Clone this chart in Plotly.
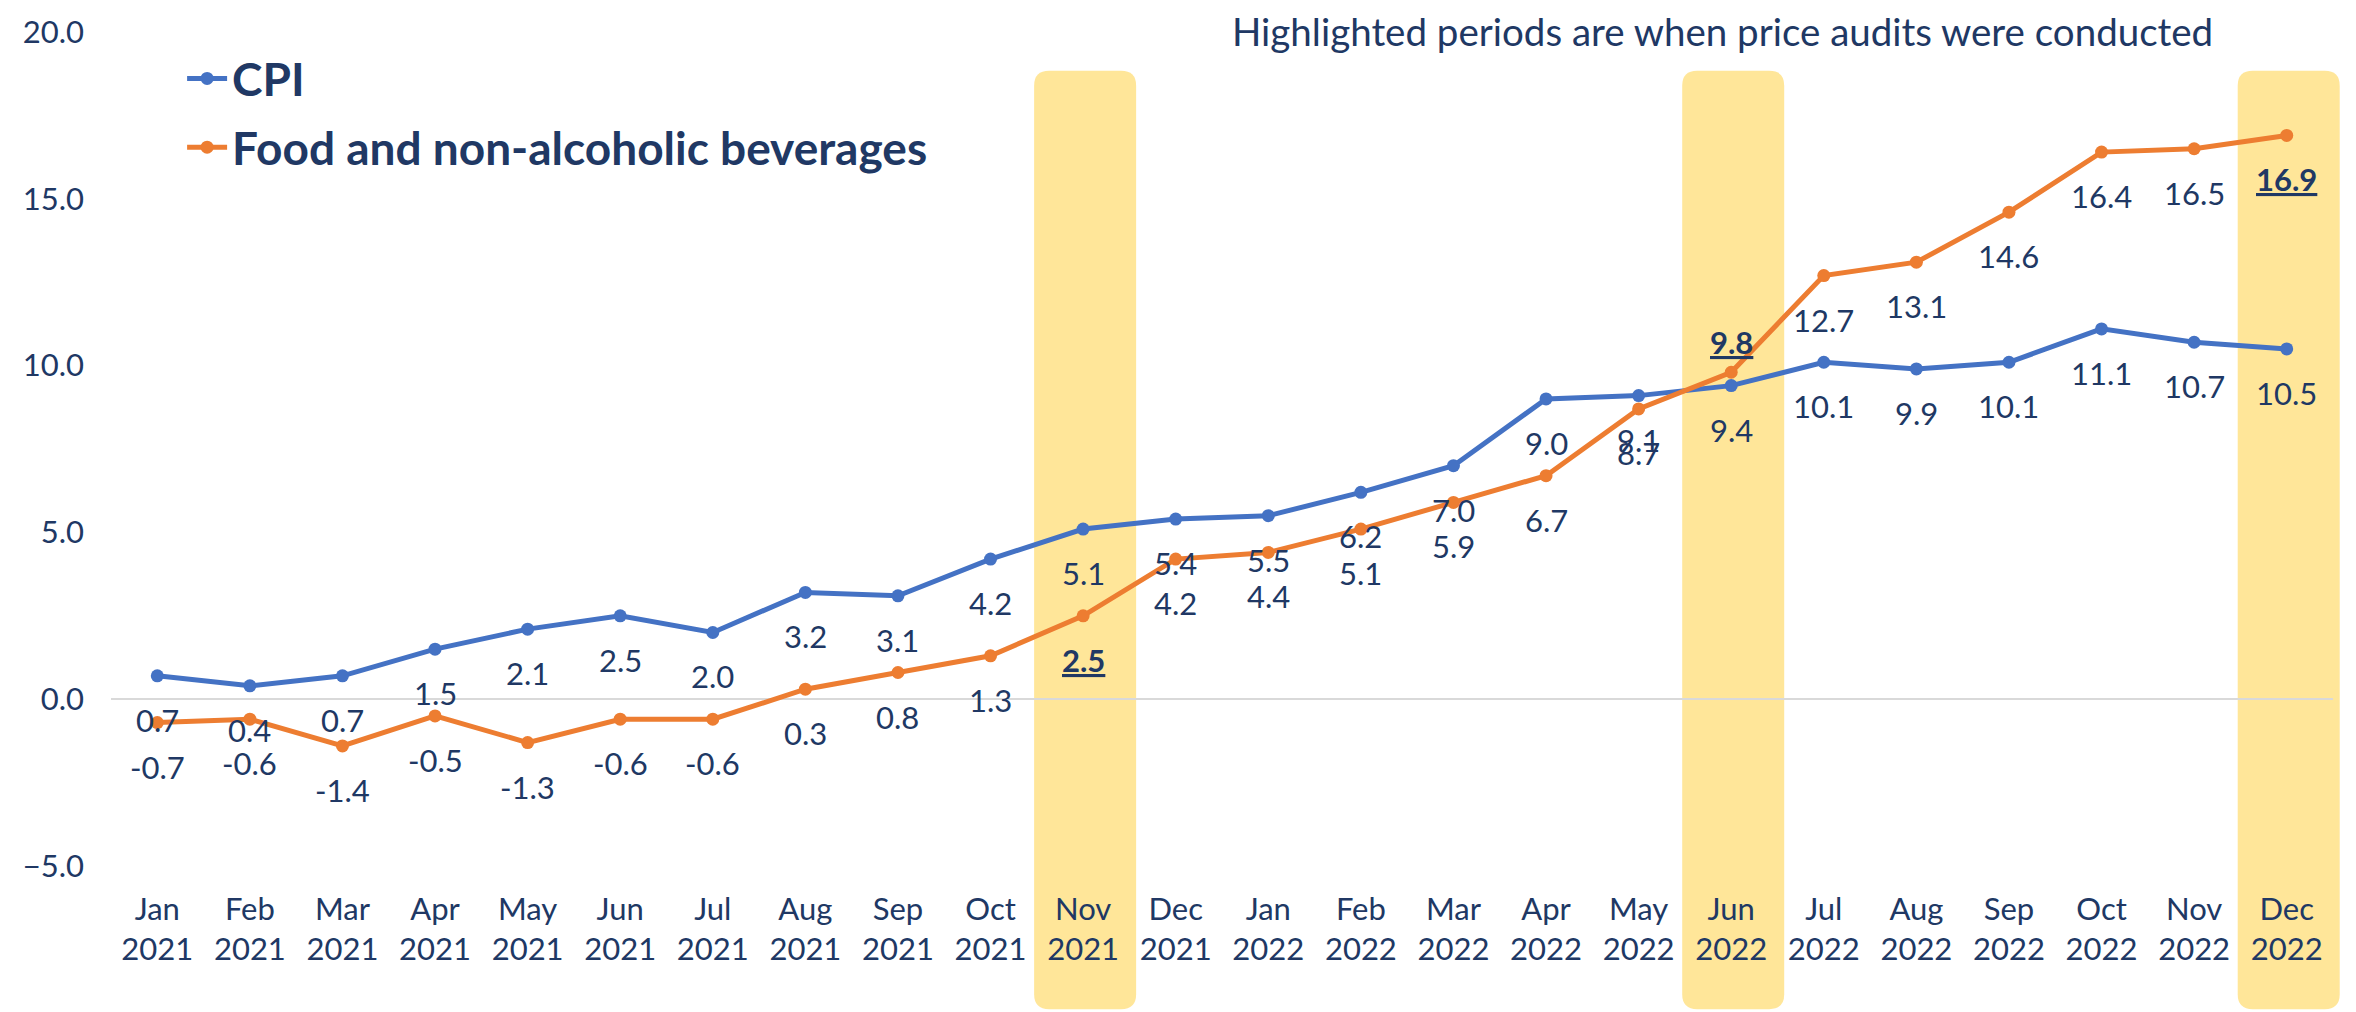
import plotly.graph_objects as go

months = ["Jan", "Feb", "Mar", "Apr", "May", "Jun", "Jul", "Aug", "Sep", "Oct", "Nov", "Dec"] * 2
years = ["2021"] * 12 + ["2022"] * 12
cpi = [0.7, 0.4, 0.7, 1.5, 2.1, 2.5, 2.0, 3.2, 3.1, 4.2, 5.1, 5.4,
       5.5, 6.2, 7.0, 9.0, 9.1, 9.4, 10.1, 9.9, 10.1, 11.1, 10.7, 10.5]
food = [-0.7, -0.6, -1.4, -0.5, -1.3, -0.6, -0.6, 0.3, 0.8, 1.3, 2.5, 4.2,
        4.4, 5.1, 5.9, 6.7, 8.7, 9.8, 12.7, 13.1, 14.6, 16.4, 16.5, 16.9]
audit_idx = [10, 17, 23]          # Nov 2021, Jun 2022, Dec 2022
above_idx = [17]                  # label drawn above point
y_ticks = [-5, 0, 5, 10, 15, 20]

NAVY = "#203864"
BLUE = "#4472C4"
ORANGE = "#ED7D31"
FONT = "Lato"

W, H = 2356, 1012
ML, MR, MT, MB = 111, 23, 27, 146
PW = W - ML - MR
PH = H - MT - MB

x = list(range(len(months)))
ticktext = [f"{m}<br>{y}" for m, y in zip(months, years)]

fig = go.Figure()
fig.add_trace(go.Scatter(x=x, y=cpi, mode="lines+markers", name="CPI",
                         line=dict(color=BLUE, width=5), marker=dict(size=13, color=BLUE),
                         legendgroup="a"))
fig.add_trace(go.Scatter(x=x, y=food, mode="lines+markers", name="Food and non-alcoholic beverages",
                         line=dict(color=ORANGE, width=5), marker=dict(size=13, color=ORANGE),
                         legendgroup="b"))

annotations = []
for i, v in enumerate(cpi):
    annotations.append(dict(x=i, y=v, xref="x", yref="y", text=f"{v:.1f}", showarrow=False,
                            yshift=-44, font=dict(family=FONT, size=31, color=NAVY)))
for i, v in enumerate(food):
    t = f"{v:.1f}"
    if i in audit_idx:
        t = f"<b><u>{t}</u></b>"
    annotations.append(dict(x=i, y=v, xref="x", yref="y", text=t, showarrow=False,
                            yshift=30 if i in above_idx else -44,
                            font=dict(family=FONT, size=31, color=NAVY)))

annotations.append(dict(x=(2215 - ML) / PW, y=(H - MB - 26) / PH, xref="paper", yref="paper",
                        xanchor="right", yanchor="middle", showarrow=False,
                        text="Highlighted periods are when price audits were conducted",
                        font=dict(family=FONT, size=38.5, color=NAVY)))

# rounded highlight bands
shapes = []
n = len(months)
half_w = 51 / PW
rx, ry = 15 / PW, 15 / PH
y0 = (H - MB - 1010) / PH
y1 = (H - MB - 66) / PH
for i in audit_idx:
    cx = (i + 0.5) / n + 2 / PW
    x0, x1 = cx - half_w, cx + half_w
    path = (f"M{x0 + rx},{y1} L{x1 - rx},{y1} Q{x1},{y1} {x1},{y1 - ry} "
            f"L{x1},{y0 + ry} Q{x1},{y0} {x1 - rx},{y0} L{x0 + rx},{y0} "
            f"Q{x0},{y0} {x0},{y0 + ry} L{x0},{y1 - ry} Q{x0},{y1} {x0 + rx},{y1} Z")
    shapes.append(dict(type="path", path=path, xref="paper", yref="paper",
                       fillcolor="#FFE699", line=dict(width=0), layer="below"))

fig.update_layout(
    width=W, height=H,
    margin=dict(l=ML, r=MR, t=MT, b=MB),
    paper_bgcolor="white", plot_bgcolor="rgba(0,0,0,0)",
    font=dict(family=FONT, size=31, color=NAVY),
    showlegend=True,
    legend=dict(x=0.032, y=0.988, xanchor="left", yanchor="top", bgcolor="rgba(0,0,0,0)",
                font=dict(family=FONT, size=46, color=NAVY, weight="bold"),
                tracegroupgap=6, itemwidth=40),
    annotations=annotations,
    shapes=shapes,
    xaxis=dict(range=[-0.5, n - 0.5], tickmode="array", tickvals=x, ticktext=ticktext,
               showgrid=False, zeroline=False, showline=False, ticks="",
               ticklabelstandoff=22, tickfont=dict(family=FONT, size=31, color=NAVY)),
    yaxis=dict(range=[-5, 20], tickmode="array", tickvals=y_ticks, tickformat=".1f",
               showgrid=False, zeroline=True, zerolinecolor="#D9D9D9", zerolinewidth=2,
               showline=False, ticks="", ticklabelstandoff=26,
               tickfont=dict(family=FONT, size=31, color=NAVY)),
)

fig.write_html("out.html", config={"displayModeBar": False},
               post_script="document.body.style.margin='0';")
